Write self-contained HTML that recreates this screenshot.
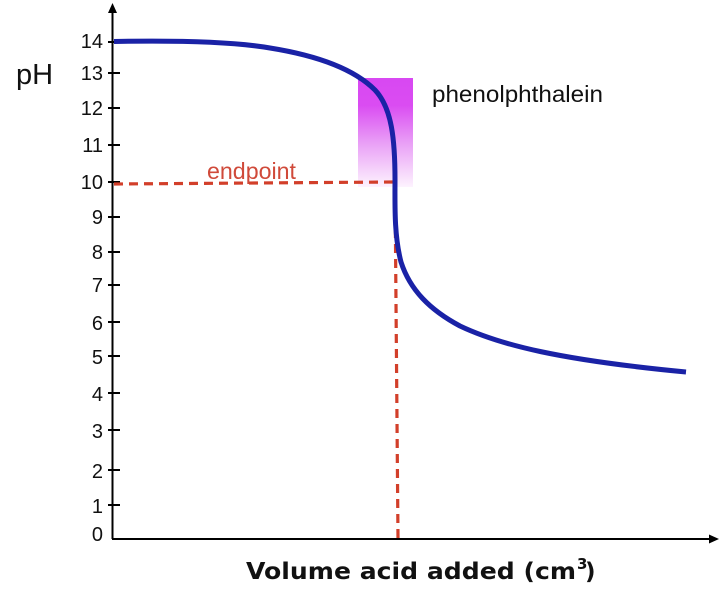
<!DOCTYPE html>
<html><head><meta charset="utf-8"><style>
html,body{margin:0;padding:0;background:#fff;}
svg{display:block;}
</style></head><body>
<svg width="726" height="590" viewBox="0 0 726 590" xmlns="http://www.w3.org/2000/svg">
<defs>
<linearGradient id="g" x1="0" y1="0" x2="0" y2="1">
<stop offset="0" stop-color="#d848f2"/>
<stop offset="0.25" stop-color="#da4cf2"/>
<stop offset="0.6" stop-color="#e9a0f6"/>
<stop offset="1" stop-color="#fdf3fe"/>
</linearGradient>
</defs>
<rect x="358" y="78" width="55" height="109" fill="url(#g)"/>
<!-- axes -->
<line x1="112.5" y1="8" x2="112.5" y2="539" stroke="#000" stroke-width="2"/>
<polygon points="112.5,3 108,13 117,13" fill="#000"/>
<line x1="112" y1="539" x2="712" y2="539" stroke="#000" stroke-width="2"/>
<polygon points="719,539 709,534.5 709,543.5" fill="#000"/>
<g stroke="#000" stroke-width="2">
<line x1="108" y1="42" x2="120" y2="42"/>
<line x1="108" y1="73" x2="120" y2="73"/>
<line x1="108" y1="108" x2="120" y2="108"/>
<line x1="108" y1="145" x2="120" y2="145"/>
<line x1="108" y1="182" x2="120" y2="182"/>
<line x1="108" y1="217" x2="120" y2="217"/>
<line x1="108" y1="252" x2="120" y2="252"/>
<line x1="108" y1="285" x2="120" y2="285"/>
<line x1="108" y1="322" x2="120" y2="322"/>
<line x1="108" y1="356" x2="120" y2="356"/>
<line x1="108" y1="393" x2="120" y2="393"/>
<line x1="108" y1="430" x2="120" y2="430"/>
<line x1="108" y1="470" x2="120" y2="470"/>
<line x1="108" y1="505" x2="120" y2="505"/>
</g>
<g font-family="Liberation Sans, Arial, sans-serif" font-size="20" fill="#111" text-anchor="end">
<text x="103" y="48">14</text>
<text x="103" y="80">13</text>
<text x="103" y="115">12</text>
<text x="103" y="152">11</text>
<text x="103" y="189">10</text>
<text x="103" y="224">9</text>
<text x="103" y="259">8</text>
<text x="103" y="292">7</text>
<text x="103" y="330">6</text>
<text x="103" y="364">5</text>
<text x="103" y="401">4</text>
<text x="103" y="438">3</text>
<text x="103" y="478">2</text>
<text x="103" y="513">1</text>
<text x="103" y="541">0</text>
</g>
<text x="16" y="84" font-family="Liberation Sans, Arial, sans-serif" font-size="29" fill="#111">pH</text>
<text x="432" y="102" font-family="Liberation Sans, Arial, sans-serif" font-size="23.5" fill="#111" textLength="171" lengthAdjust="spacingAndGlyphs">phenolphthalein</text>
<text x="207" y="179" font-family="Liberation Sans, Arial, sans-serif" font-size="23" fill="#d04a3a" textLength="89" lengthAdjust="spacingAndGlyphs">endpoint</text>
<!-- dashed lines -->
<path d="M114,184 L395,182" stroke="#d23f2a" stroke-width="3.2" stroke-dasharray="9,6" fill="none"/>
<path d="M395,184 L398,538" stroke="#d23f2a" stroke-width="3.2" stroke-dasharray="9,6" fill="none"/>
<!-- curve -->
<path d="M114,41.5 C170,40.5 230,41 270,48 C320,56 355,70 375,90 C392,108 395,140 395,180 C395,205 394,235 401,262 C410,290 430,310 460,326 C500,345 560,360 686,372" stroke="#1a22a6" stroke-width="5" fill="none" stroke-linecap="butt"/>
<text x="246" y="579" font-family="'Comic Sans MS','DejaVu Sans',sans-serif" font-weight="bold" font-size="23" fill="#111" textLength="330" lengthAdjust="spacingAndGlyphs">Volume acid added (cm</text>
<text x="577" y="569" font-family="'Comic Sans MS','DejaVu Sans',sans-serif" font-weight="bold" font-size="15" fill="#111">3</text>
<text x="585" y="579" font-family="'Comic Sans MS','DejaVu Sans',sans-serif" font-weight="bold" font-size="23" fill="#111">)</text>
</svg>
</body></html>
